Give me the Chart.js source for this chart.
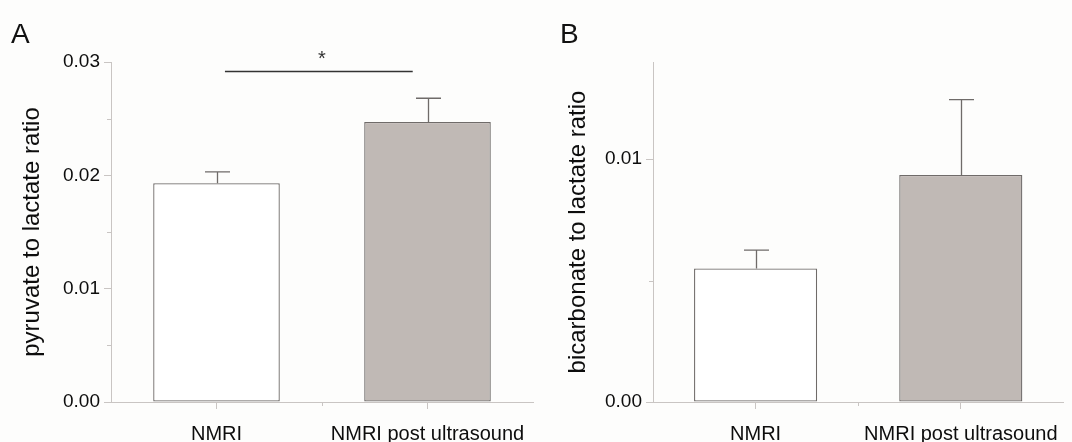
<!DOCTYPE html>
<html>
<head>
<meta charset="utf-8">
<script src="https://cdn.jsdelivr.net/npm/chart.js@4"></script>
<style>
  html, body { margin: 0; padding: 0; background: #fdfdfc; overflow: hidden; }
  #wrap { position: relative; width: 1072px; height: 442px; font-family: 'Liberation Sans', Arial, sans-serif; }
  .panel { position: absolute; top: 0; height: 442px; }
  .tag { position: absolute; top: 20px; font-size: 28px; line-height: 1; color: #111; }
</style>
</head>
<body>
<div id="wrap">
  <div class="panel" style="left:0;width:540px"><canvas id="chartA" width="540" height="442"></canvas></div>
  <div class="panel" style="left:540px;width:532px"><canvas id="chartB" width="532" height="442"></canvas></div>
  <div class="tag" style="left:11px">A</div>
  <div class="tag" style="left:560px">B</div>
</div>
<script>
// data
const categories = ['NMRI', 'NMRI post ultrasound'];
const pyruvateMean = [0.0193, 0.0247];
const pyruvateSem = [0.0010, 0.0021];
const bicarbMean = [0.0055, 0.00935];
const bicarbSem = [0.00075, 0.0031];
const ticksA = [0, 0.01, 0.02, 0.03];
const minorA = [0.005, 0.015, 0.025];
const ticksB = [0, 0.01];
const minorB = [0.005];
// significance bracket in panel A (category units / data units)
const sigSpan = [0.04, 0.93];
const sigLevel = 0.0292;
const starLevel = 0.0306;

const axisGrey = '#c9c5c3';
const barEdge = '#6f6b69';
const textCol = '#0d0d0d';

Chart.defaults.font.family = "'Liberation Sans', Arial, sans-serif";

const extras = {
  id: 'extras',
  afterDatasetsDraw(chart, args, opts) {
    const ctx = chart.ctx;
    const x = chart.scales.x, y = chart.scales.y;
    ctx.save();

    // error bars (upper only)
    ctx.strokeStyle = barEdge;
    ctx.lineWidth = 1.3;
    chart.getDatasetMeta(0).data.forEach((bar, i) => {
      const top = y.getPixelForValue(opts.mean[i] + opts.sem[i]);
      const bx = Math.round(bar.x) + 0.5;
      ctx.beginPath();
      ctx.moveTo(bx, bar.y);
      ctx.lineTo(bx, top);
      ctx.moveTo(bx - 12.5, top);
      ctx.lineTo(bx + 12.5, top);
      ctx.stroke();
    });

    // minor ticks
    ctx.strokeStyle = axisGrey;
    ctx.lineWidth = 1;
    opts.minor.forEach(v => {
      const py = Math.round(y.getPixelForValue(v)) + 0.5;
      ctx.beginPath();
      ctx.moveTo(y.right - 4, py);
      ctx.lineTo(y.right, py);
      ctx.stroke();
    });
    const mx = Math.round(x.getPixelForValue(0.5)) + 0.5;
    ctx.beginPath();
    ctx.moveTo(mx, x.top);
    ctx.lineTo(mx, x.top + 4);
    ctx.stroke();

    // significance line
    if (opts.sig) {
      const sy = Math.round(y.getPixelForValue(sigLevel)) + 0.5;
      ctx.strokeStyle = '#333';
      ctx.lineWidth = 1.5;
      ctx.beginPath();
      ctx.moveTo(x.getPixelForValue(sigSpan[0]), sy);
      ctx.lineTo(x.getPixelForValue(sigSpan[1]), sy);
      ctx.stroke();
      ctx.fillStyle = '#333';
      ctx.font = "20px 'Liberation Sans', Arial, sans-serif";
      ctx.textAlign = 'center';
      ctx.textBaseline = 'middle';
      ctx.fillText('*', x.getPixelForValue(0.5), y.getPixelForValue(starLevel) + 4);
    }
    ctx.restore();
  }
};

function makeChart(id, mean, sem, yMax, yTicks, minor, yWidth, title, titlePad, padRight, sig) {
  return new Chart(document.getElementById(id), {
    type: 'bar',
    data: {
      labels: categories,
      datasets: [{
        data: mean,
        backgroundColor: ['#ffffff', '#c0b9b5'],
        borderColor: barEdge,
        borderWidth: 1.3,
        borderSkipped: false,
        barPercentage: 0.6,
        categoryPercentage: 1
      }]
    },
    options: {
      responsive: false,
      animation: false,
      layout: { padding: { left: 0, right: padRight, top: 62, bottom: 0 } },
      plugins: {
        legend: { display: false },
        tooltip: { enabled: false },
        extras: { mean: mean, sem: sem, minor: minor, sig: sig }
      },
      scales: {
        x: {
          offset: true,
          afterFit: s => { s.height = 40; },
          border: { color: axisGrey, width: 1 },
          grid: { offset: false, drawOnChartArea: false, drawTicks: true, tickLength: 7, color: axisGrey },
          ticks: { color: textCol, font: { size: 20 }, padding: 13, maxRotation: 0, autoSkip: false }
        },
        y: {
          min: 0,
          max: yMax,
          afterBuildTicks: s => { s.ticks = yTicks.map(v => ({ value: v })); },
          afterFit: s => { s.width = yWidth; },
          border: { color: axisGrey, width: 1 },
          grid: { drawOnChartArea: false, drawTicks: true, tickLength: 7, color: axisGrey },
          ticks: { color: textCol, font: { size: 19 }, padding: 4, callback: v => Number(v).toFixed(2) },
          title: { display: true, text: title, color: textCol, font: { size: 24 }, padding: { top: titlePad, bottom: 0 } }
        }
      }
    },
    plugins: [extras]
  });
}

makeChart('chartA', pyruvateMean, pyruvateSem, 0.03, ticksA, minorA, 111, 'pyruvate to lactate ratio', 18, 7, true);
makeChart('chartB', bicarbMean, bicarbSem, 0.014, ticksB, minorB, 113, 'bicarbonate to lactate ratio', 24, 6, false);
</script>
</body>
</html>
